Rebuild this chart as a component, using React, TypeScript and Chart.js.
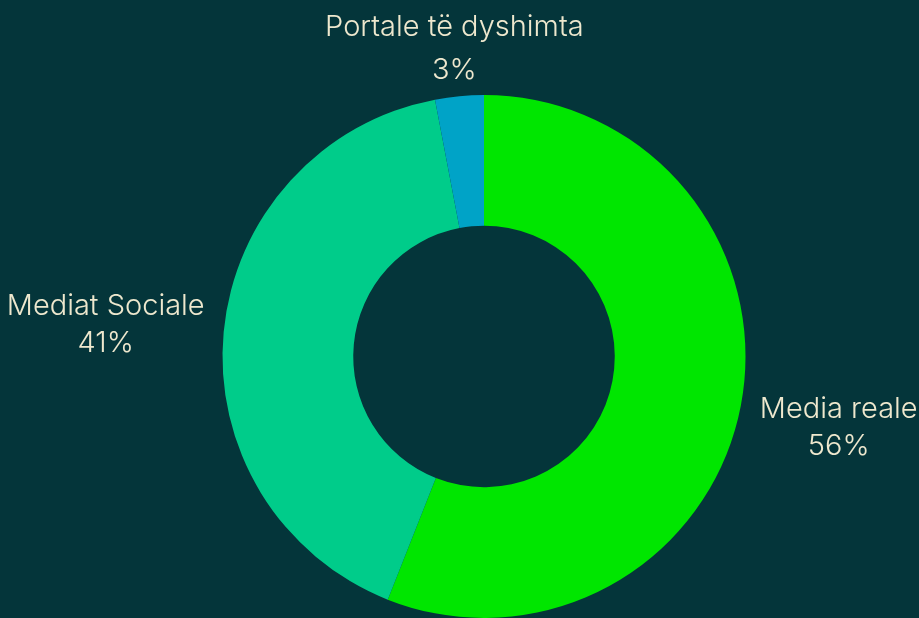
import React, { useEffect, useRef } from "react";
import { Chart, registerables } from "chart.js";

Chart.register(...registerables);

const categories = ["Media reale", "Mediat Sociale", "Portale të dyshimta"];
const values = [56, 41, 3];
const colors = ["#00E600", "#00CC8A", "#00A3C7"];
const BG = "#04353A";
const TEXT = "#EEE8CE";
const FONT = "300 29px Inter";

// label layout tweaks per slice: [align, dx, dyFirstBaseline, lineGap]
const labelLayout: Array<[CanvasTextAlign, number, number, number]> = [
  ["left", 19, 12, 37],
  ["right", -19, -17, 37],
  ["center", -5, -60, 43],
];

const labelPlugin = {
  id: "outerLabels",
  afterDraw(chart: any) {
    const ctx = chart.ctx;
    const meta = chart.getDatasetMeta(0);
    ctx.save();
    ctx.font = FONT;
    ctx.fillStyle = TEXT;
    ctx.textBaseline = "alphabetic";
    meta.data.forEach((arc: any, i: number) => {
      const { startAngle, endAngle, outerRadius, x, y } = arc.getProps(
        ["startAngle", "endAngle", "outerRadius", "x", "y"],
        true
      );
      const mid = (startAngle + endAngle) / 2;
      const px = x + Math.cos(mid) * outerRadius;
      const py = y + Math.sin(mid) * outerRadius;
      const [align, dx, dy, gap] = labelLayout[i];
      const line1 = categories[i];
      const line2 = values[i] + "%";
      const w1 = ctx.measureText(line1).width;
      let cx: number;
      if (align === "left") cx = px + dx + w1 / 2;
      else if (align === "right") cx = px + dx - w1 / 2;
      else cx = px + dx;
      ctx.textAlign = "center";
      ctx.fillText(line1, cx, py + dy);
      ctx.fillText(line2, cx, py + dy + gap);
    });
    ctx.restore();
  },
};

export default function App() {
  const ref = useRef<HTMLCanvasElement | null>(null);
  useEffect(() => {
    document.body.style.margin = "0";
    document.body.style.background = BG;
    const chart = new Chart(ref.current as HTMLCanvasElement, {
      type: "doughnut",
      data: {
        labels: categories,
        datasets: [
          {
            data: values,
            backgroundColor: colors,
            borderWidth: 0,
            hoverOffset: 0,
          },
        ],
      },
      options: {
        animation: false,
        responsive: false,
        cutout: "50%",
        layout: { padding: { left: 222, right: 173, top: 95, bottom: -1 } },
        plugins: {
          legend: { display: false },
          tooltip: { enabled: false },
        },
      },
      plugins: [labelPlugin],
    });
    return () => chart.destroy();
  }, []);
  return (
    <div style={{ position: "fixed", left: 0, top: 0, width: 919, height: 618, background: BG }}>
      <canvas ref={ref} width={919} height={618} style={{ width: 919, height: 618, display: "block" }} />
    </div>
  );
}
